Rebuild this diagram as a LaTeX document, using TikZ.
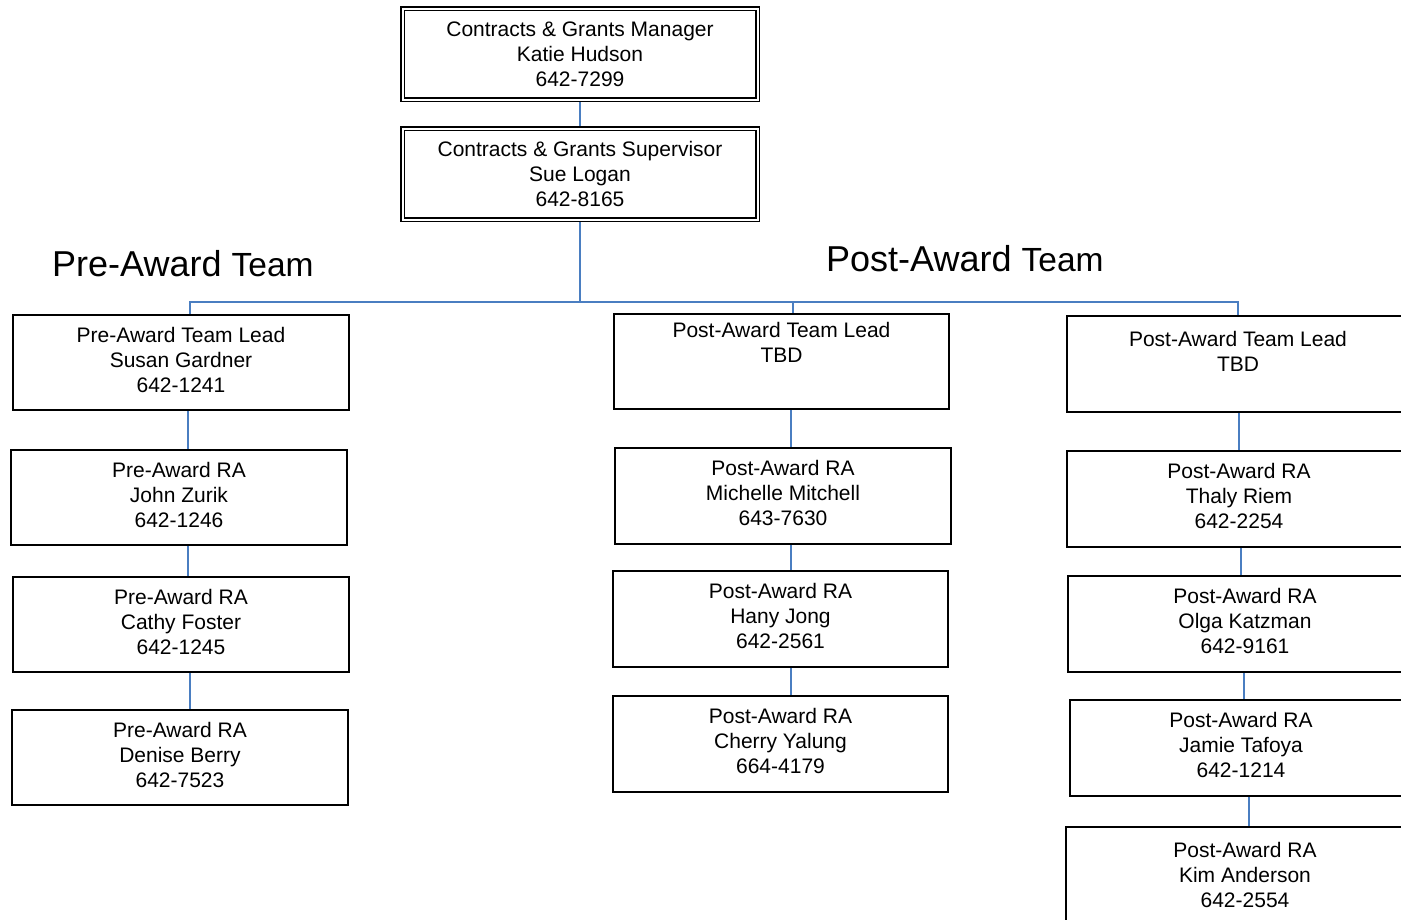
\documentclass[tikz,border=0pt]{standalone}
\usepackage{fontspec}
\setmainfont{Liberation Sans}
\usetikzlibrary{backgrounds}

\definecolor{linkblue}{RGB}{74,126,193}

\tikzset{
    person/.style={draw=black, line width=1.5pt, rectangle, align=center,
        minimum width=336pt, minimum height=95pt, inner sep=0pt, text depth=6pt,
        font=\fontsize{21}{25}\selectfont},
    boss/.style={person, double, double distance=2pt, line width=1.3pt,
        minimum width=355pt, minimum height=91pt, text depth=0pt},
    link/.style={linkblue, line width=1.6pt},
    heading/.style={anchor=base west, inner sep=0pt}
}

\begin{document}
\begin{tikzpicture}[x=1pt, y=-1pt]
        \useasboundingbox (0,0) rectangle (1401,919);
        \clip (0,0) rectangle (1401,919);
        % manager and supervisor
        \node[boss] (mgr) at (580,54) {Contracts \& Grants Manager\\Katie Hudson\\642-7299};
        \node[boss] (sup) at (580,174) {Contracts \& Grants Supervisor\\Sue Logan\\642-8165};
        % team titles
        \node[heading] (pretitle) at (52,276) {{\fontsize{36}{40}\selectfont Pre-Award }{\fontsize{33.5}{38}\selectfont Team}};
        \node[heading] (posttitle) at (826,271) {{\fontsize{36}{40}\selectfont Post-Award }{\fontsize{33.5}{38}\selectfont Team}};
        % pre-award column
        \node[person] (prelead) at (181,362.5) {Pre-Award Team Lead\\Susan Gardner\\642-1241};
        \node[person] (john) at (179,497.5) {Pre-Award RA\\John Zurik\\642-1246};
        \node[person] (cathy) at (181,624.5) {Pre-Award RA\\Cathy Foster\\642-1245};
        \node[person] (denise) at (180,757.5) {Pre-Award RA\\Denise Berry\\642-7523};
        % post-award, middle column
        \node[person, minimum width=335pt] (postleadA) at (781.5,361.5) {Post-Award Team Lead\\TBD\\[8pt]~};
        \node[person, minimum height=96pt] (michelle) at (783,496) {Post-Award RA\\Michelle Mitchell\\643-7630};
        \node[person, minimum width=335pt, minimum height=96pt] (hany) at (780.5,619) {Post-Award RA\\Hany Jong\\642-2561};
        \node[person, minimum width=335pt, minimum height=96pt] (cherry) at (780.5,744) {Post-Award RA\\Cherry Yalung\\664-4179};
        % post-award, right column
        \node[person, minimum width=342pt, minimum height=96pt, text depth=0pt] (postleadB) at (1238,364) {Post-Award Team Lead\\TBD\\~};
        \node[person, minimum width=344pt, minimum height=96pt] (thaly) at (1239,499) {Post-Award RA\\Thaly Riem\\642-2254};
        \node[person, minimum width=354pt, minimum height=96pt] (olga) at (1245,624) {Post-Award RA\\Olga Katzman\\642-9161};
        \node[person, minimum width=342pt, minimum height=96pt] (jamie) at (1241,748) {Post-Award RA\\Jamie Tafoya\\642-1214};
        \node[person, minimum width=358pt, minimum height=96pt, text depth=0pt] (kim) at (1245,875) {Post-Award RA\\Kim Anderson\\642-2554};
        % connectors
        \begin{scope}[on background layer]
        \draw[link] (mgr.south) -- (sup.north);
        \coordinate (bus) at (580,302);
        \draw[link] (sup.south) -- (bus) -| ([xshift=9]prelead.north);
        \draw[link] (bus) -| ([xshift=11.5]postleadA.north);
        \draw[link] (bus) -| (postleadB.north);
        \draw[link] ([xshift=7]prelead.south) -- ([xshift=7]prelead.south |- john.north);
        \draw[link] ([xshift=9]john.south) -- ([xshift=9]john.south |- cathy.north);
        \draw[link] ([xshift=9]cathy.south) -- ([xshift=9]cathy.south |- denise.north);
        \draw[link] ([xshift=9.5]postleadA.south) -- ([xshift=9.5]postleadA.south |- michelle.north);
        \draw[link] ([xshift=8]michelle.south) -- ([xshift=8]michelle.south |- hany.north);
        \draw[link] ([xshift=10.5]hany.south) -- ([xshift=10.5]hany.south |- cherry.north);
        \draw[link] ([xshift=1]postleadB.south) -- ([xshift=1]postleadB.south |- thaly.north);
        \draw[link] ([xshift=2]thaly.south) -- ([xshift=2]thaly.south |- olga.north);
        \draw[link] ([xshift=-1]olga.south) -- ([xshift=-1]olga.south |- jamie.north);
        \draw[link] ([xshift=8]jamie.south) -- ([xshift=8]jamie.south |- kim.north);
        \end{scope}
\end{tikzpicture}
\end{document}
